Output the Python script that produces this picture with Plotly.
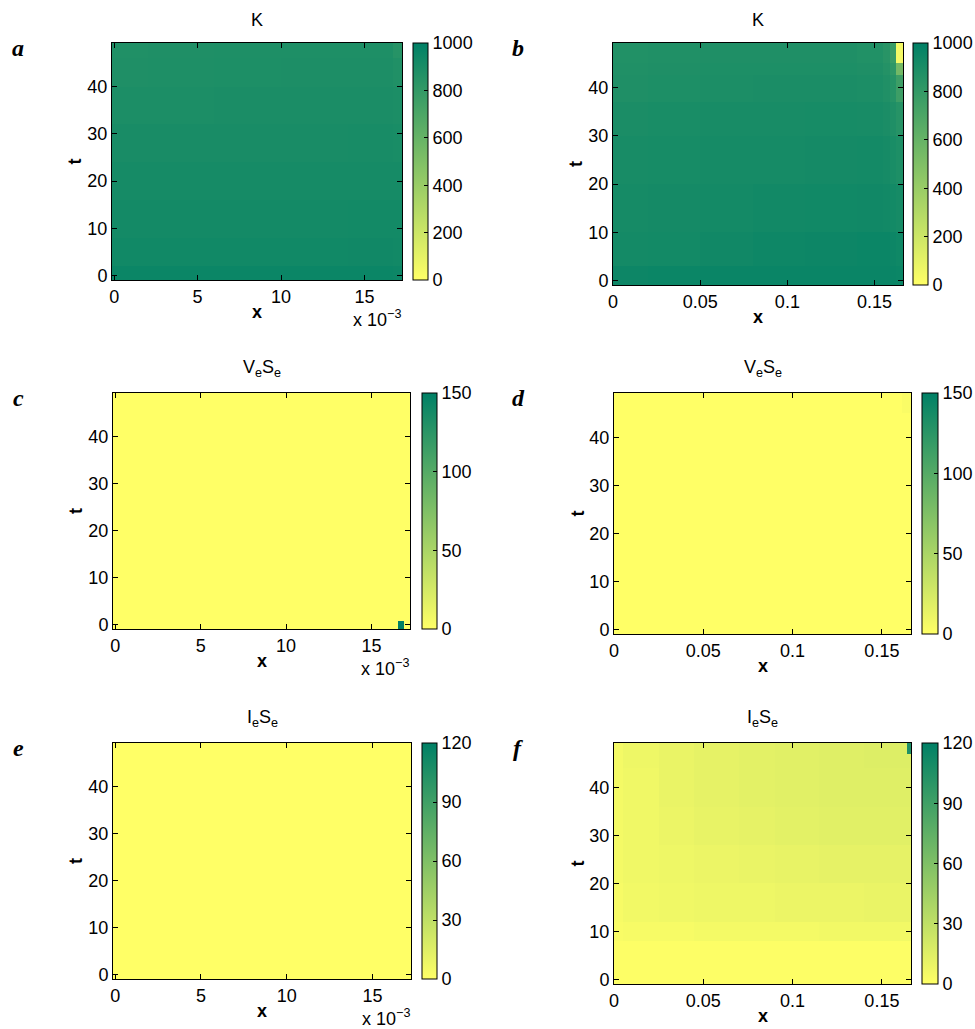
import plotly.graph_objects as go

W, H = 975, 1029

# ---------------- data ----------------
# Panel a: K, small domain (x in metres, t)
a_x_edges = [-0.00013, 0.002, 0.006, 0.010, 0.014, 0.0167, 0.01725]
a_t_edges = [-0.9, 2, 8, 16, 24, 32, 40, 46, 49.2]
a_K = [
    [955, 955, 955, 955, 955, 950],
    [932, 932, 932, 932, 934, 930],
    [922, 922, 922, 922, 925, 925],
    [912, 912, 912, 912, 915, 915],
    [902, 902, 902, 902, 905, 900],
    [892, 892, 894, 895, 896, 890],
    [880, 882, 885, 886, 886, 875],
    [875, 878, 882, 884, 884, 850],
]

# Panel b: K, large domain
b_x_edges = [0, 0.02, 0.05, 0.08, 0.11, 0.14, 0.155, 0.159, 0.162, 0.1663]
b_t_edges = [-0.9, 3, 10, 20, 30, 37, 42.5, 45, 49.2]
b_K = [
    [950, 955, 960, 960, 960, 960, 960, 960, 955],
    [920, 925, 935, 945, 950, 955, 955, 950, 940],
    [915, 918, 922, 928, 932, 935, 930, 925, 915],
    [905, 908, 912, 914, 918, 920, 912, 900, 885],
    [895, 900, 905, 905, 908, 905, 895, 880, 850],
    [880, 885, 890, 895, 895, 890, 875, 850, 760],
    [875, 880, 885, 885, 885, 878, 860, 820, 550],
    [870, 875, 880, 880, 880, 870, 845, 780, 40],
]

# Panel c: VeSe, small domain
c_x_edges = [-0.00013, 0.01657, 0.01688, 0.01725]
c_t_edges = [-0.9, 0.9, 49.2]
c_VS = [
    [0, 150, 0],
    [0, 0, 0],
]

# Panel d: VeSe, large domain
d_x_edges = [0, 0.161, 0.1663]
d_t_edges = [-0.9, 45, 49.2]
d_VS = [
    [0, 0],
    [0, 3],
]

# Panel e: IeSe, small domain
e_x_edges = [-0.00013, 0.008, 0.01725]
e_t_edges = [-0.9, 24, 49.2]
e_IS = [
    [0, 0],
    [0, 0],
]

# Panel f: IeSe, large domain
f_x_edges = [0, 0.005, 0.025, 0.045, 0.07, 0.09, 0.115, 0.14, 0.1642, 0.1663]
f_t_edges = [-0.9, 8, 12, 20, 28, 36, 44, 47, 49.2]
f_IS = [
    [1, 1, 1, 1, 1, 1, 1, 1, 1],
    [3, 4, 4, 5, 5, 5, 6, 6, 6],
    [4, 6, 7, 8, 8, 9, 9, 10, 10],
    [5, 7, 8, 9, 10, 11, 12, 12, 12],
    [5, 7, 9, 11, 12, 13, 14, 14, 14],
    [5, 7, 10, 12, 13, 14, 15, 15, 15],
    [5, 8, 10, 12, 13, 14, 15, 16, 16],
    [5, 8, 10, 12, 13, 14, 15, 16, 105],
]

small_xtick_vals = [0, 0.005, 0.010, 0.015]
small_xtick_text = ["0", "5", "10", "15"]
large_xtick_vals = [0, 0.05, 0.1, 0.15]
large_xtick_text = ["0", "0.05", "0.1", "0.15"]
t_tick_vals = [0, 10, 20, 30, 40]

cb_K_ticks = [0, 200, 400, 600, 800, 1000]
cb_VS_ticks = [0, 50, 100, 150]
cb_IS_ticks = [0, 30, 60, 90, 120]

titles = ["K", "K", "V<sub>e</sub>S<sub>e</sub>", "V<sub>e</sub>S<sub>e</sub>",
          "I<sub>e</sub>S<sub>e</sub>", "I<sub>e</sub>S<sub>e</sub>"]
letters = ["a", "b", "c", "d", "e", "f"]

# ---------------- layout helpers ----------------
def px(x):
    return x / W

def py(y):
    return 1 - y / H

summer_r = [[0, "rgb(255,255,102)"], [1, "rgb(0,128,102)"]]
FONT = "Liberation Sans, Arial, Helvetica, sans-serif"

# pixel boxes: (left, top, right, bottom), colorbar (left, right)
boxes = [
    ((112, 43, 402, 280), (413, 428)),
    ((613, 43, 903, 285), (913, 928)),
    ((113, 393, 410, 629), (422, 437)),
    ((614, 393, 911, 634), (922, 938)),
    ((113, 743, 411, 979), (422, 437)),
    ((614, 743, 911, 984), (922, 938)),
]

panels = [
    (a_x_edges, a_t_edges, a_K, 1000, cb_K_ticks, True),
    (b_x_edges, b_t_edges, b_K, 1000, cb_K_ticks, False),
    (c_x_edges, c_t_edges, c_VS, 150, cb_VS_ticks, True),
    (d_x_edges, d_t_edges, d_VS, 150, cb_VS_ticks, False),
    (e_x_edges, e_t_edges, e_IS, 120, cb_IS_ticks, True),
    (f_x_edges, f_t_edges, f_IS, 120, cb_IS_ticks, False),
]

fig = go.Figure()
annotations = []
layout_axes = {}

for i, ((xe, te, z, zmax, cbt, small), ((l, t, r, b), (cl, cr))) in enumerate(zip(panels, boxes)):
    n = i + 1
    xa = "x" if n == 1 else f"x{n}"
    ya = "y" if n == 1 else f"y{n}"
    fig.add_trace(go.Heatmap(
        x=xe, y=te, z=z, zmin=0, zmax=zmax,
        colorscale=summer_r, xaxis=xa, yaxis=ya,
        hoverinfo="skip",
        colorbar=dict(
            x=px(cl), xanchor="left", xpad=0, ypad=0,
            y=py(t), yanchor="top",
            len=(b - t) / H, lenmode="fraction",
            thickness=cr - cl, thicknessmode="pixels",
            outlinecolor="black", outlinewidth=1,
            tickvals=cbt, ticks="inside", ticklen=4, tickcolor="black",
            tickfont=dict(family=FONT, size=18, color="black"),
        ),
    ))
    if small:
        xr = [-0.00013, 0.01725]
        tv, tt = small_xtick_vals, small_xtick_text
    else:
        xr = [0, 0.1663]
        tv, tt = large_xtick_vals, large_xtick_text
    axis_common = dict(
        showline=True, linecolor="black", linewidth=1, mirror="ticks",
        ticks="inside", ticklen=5, tickcolor="black", showgrid=False, zeroline=False,
        automargin=False,
        tickfont=dict(family=FONT, size=18, color="black"),
    )
    layout_axes["xaxis" if n == 1 else f"xaxis{n}"] = dict(
        domain=[px(l), px(r)], anchor=ya, range=xr,
        tickvals=tv, ticktext=tt, **axis_common)
    layout_axes["yaxis" if n == 1 else f"yaxis{n}"] = dict(
        domain=[py(b), py(t)], anchor=xa, range=[-0.9, 49.2],
        tickvals=t_tick_vals, **axis_common)

    cx = (l + r) / 2
    # title
    annotations.append(dict(
        text=titles[i], x=px(cx), y=py(t - 11), xref="paper", yref="paper",
        xanchor="center", yanchor="bottom", showarrow=False,
        font=dict(family=FONT, size=18, color="black")))
    # x label
    annotations.append(dict(
        text="<b>x</b>", x=px(cx), y=py(b + 32), xref="paper", yref="paper",
        xanchor="center", yanchor="middle", showarrow=False,
        font=dict(family=FONT, size=18, color="black")))
    # t label
    annotations.append(dict(
        text="<b>t</b>", x=px(l - 37), y=py((t + b) / 2), xref="paper", yref="paper",
        xanchor="center", yanchor="middle", showarrow=False, textangle=-90,
        font=dict(family=FONT, size=18, color="black")))
    # multiplier
    if small:
        annotations.append(dict(
            text="x 10<sup>\u22123</sup>", x=px(r + 1), y=py(b + 38), xref="paper", yref="paper",
            xanchor="right", yanchor="middle", showarrow=False,
            font=dict(family=FONT, size=18, color="black")))
    # panel letter
    lx = 18 if i % 2 == 0 else 518
    annotations.append(dict(
        text=f"<b><i>{letters[i]}</i></b>", x=px(lx), y=py(t + 5), xref="paper", yref="paper",
        xanchor="center", yanchor="middle", showarrow=False,
        font=dict(family="Liberation Serif, DejaVu Serif, serif", size=24, color="black")))

fig.update_layout(
    width=W, height=H,
    margin=dict(l=0, r=0, t=0, b=0, autoexpand=False),
    paper_bgcolor="white", plot_bgcolor="white",
    showlegend=False,
    annotations=annotations,
    **layout_axes,
)

fig.write_html(
    "out.html",
    config={"displayModeBar": False},
    post_script="document.body.style.margin='0';document.body.style.overflow='hidden';",
)
